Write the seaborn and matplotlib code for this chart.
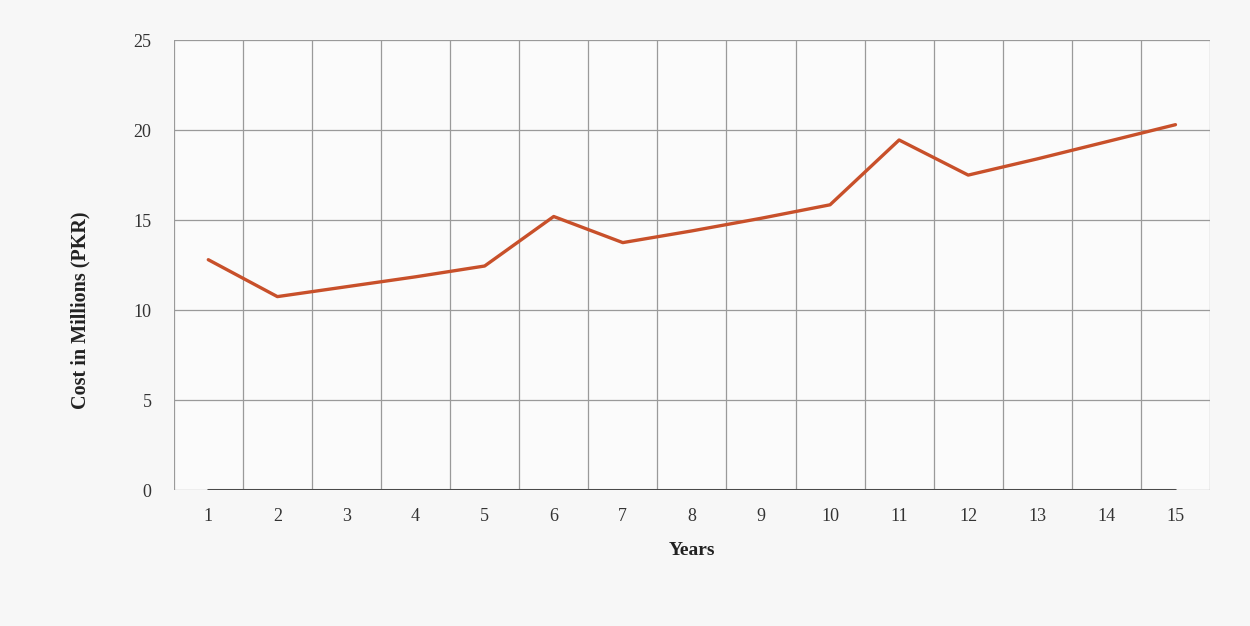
import matplotlib
matplotlib.use("Agg")
import matplotlib.pyplot as plt
import numpy as np
import pandas as pd
import seaborn as sns

# data
years = list(range(1, 16))
cost = [12.8, 10.75, 11.3, 11.85, 12.45, 15.2, 13.75, 14.4, 15.1, 15.85,
        19.45, 17.5, 18.4, 19.35, 20.3]
baseline = [0] * 15

sns.set_theme(style="white")
plt.rcParams['font.family'] = ['Liberation Serif', 'DejaVu Serif']

df = pd.DataFrame({"Years": years, "Cost": cost, "Base": baseline})

fig = plt.figure(figsize=(12.5, 6.26), dpi=100)
fig.patch.set_facecolor("#f7f7f7")
ax = fig.add_axes([0.139, 0.217, 0.829, 0.719])
ax.set_facecolor("#fbfbfb")

# grid: horizontal every 5, vertical between categories
ax.set_ylim(0, 25)
ax.set_xlim(0.5, 15.5)
ax.set_yticks(np.arange(0, 26, 5))
ax.set_xticks(years)
for yv in np.arange(0, 26, 5):
    ax.axhline(yv, color="#9a9a9a", lw=0.9, zorder=1)
for xv in np.arange(0.5, 16, 1):
    ax.axvline(xv, color="#9a9a9a", lw=0.9, zorder=1)

sns.lineplot(data=df, x="Years", y="Base", ax=ax, color="#4a4a4a", lw=2.2, zorder=3)
sns.lineplot(data=df, x="Years", y="Cost", ax=ax, color="#c8502a", lw=2.4, zorder=4)

for s in ax.spines.values():
    s.set_visible(False)

ax.tick_params(axis="y", length=0, pad=16, labelsize=13, colors="#333333")
ax.tick_params(axis="x", length=0, pad=13, labelsize=13, colors="#333333")

ax.set_xlabel("Years", fontsize=14, fontweight="bold", labelpad=12, color="#222222")
ax.set_ylabel("Cost in Millions (PKR)", fontsize=14.5, fontweight="bold", color="#222222")
ax.yaxis.set_label_coords(-0.08, 0.40)

fig.savefig("out.png", dpi=100, facecolor=fig.get_facecolor())
